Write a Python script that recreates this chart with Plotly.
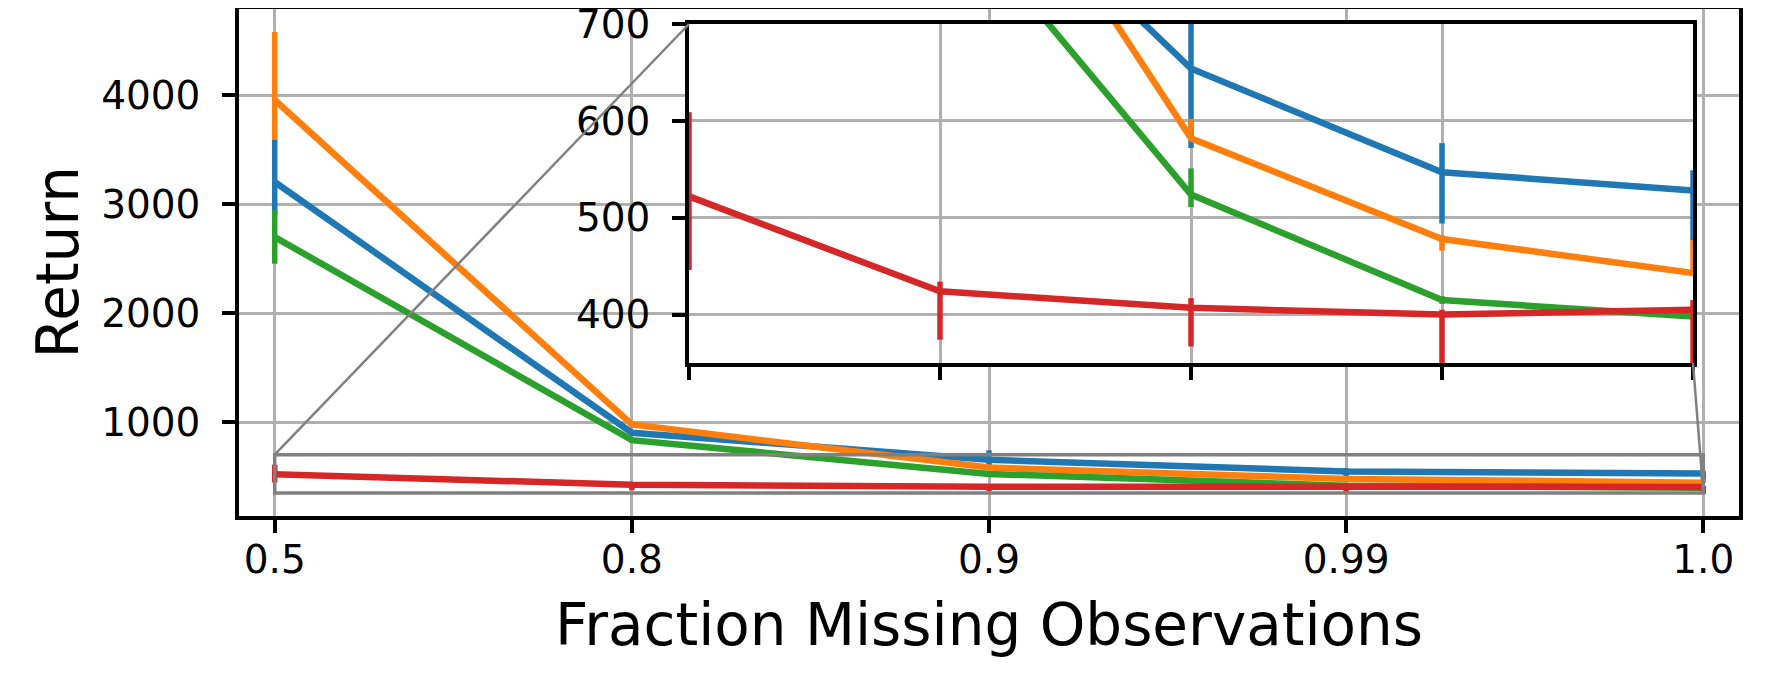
import plotly.graph_objects as go

# ---------------- data ----------------
x_labels = ["0.5", "0.8", "0.9", "0.99", "1.0"]
x_idx = [0, 1, 2, 3, 4]

blue_mean = [3202, 902, 654, 547, 528]
blue_hi = [3600, 925, 740, 577, 549]
blue_lo = [2900, 880, 572, 494, 477]

orange_mean = [3954, 978, 582, 478, 443]
orange_hi = [4578, 1000, 602, 482, 477]
orange_lo = [3587, 960, 580, 466, 441]

green_mean = [2697, 834, 524, 415, 398]
green_hi = [2942, 850, 551, 419, 402]
green_lo = [2452, 815, 511, 411, 394]

red_mean = [522, 424, 407, 400, 405]
red_hi = [609, 434, 417, 405, 415]
red_lo = [446, 374, 367, 340, 340]

series = [
    ("blue", "#1f77b4", blue_mean, blue_hi, blue_lo),
    ("orange", "#ff7f0e", orange_mean, orange_hi, orange_lo),
    ("green", "#2ca02c", green_mean, green_hi, green_lo),
    ("red", "#d62728", red_mean, red_hi, red_lo),
]

main_yticks = [1000, 2000, 3000, 4000]
inset_yticks = [400, 500, 600, 700]

# ---------------- layout geometry ----------------
W, H = 1769, 688
OX, OY = 8, 8  # page body margin compensation


def px(xp):
    return (xp - OX) / W


def py(yp):
    return 1 - (yp - OY) / H


main_xdom = [px(239), px(1739)]
main_ydom = [py(516), py(9)]
inset_xdom = [px(689), px(1693)]
inset_ydom = [py(363), py(24)]
main_xrange = [-0.1, 4.1]
main_yrange = [138, 4789]
inset_xrange = [0, 4]
inset_yrange = [350, 700]

FONT = "DejaVu Sans"
TICK_SIZE = 39
TITLE_SIZE = 58
LW = 6.5
GRID = "#b0b0b0"

fig = go.Figure()

for axis_suffix in ["", "2"]:
    for name, color, m, hi, lo in series:
        fig.add_trace(go.Scatter(
            x=x_idx, y=m, mode="lines", name=name, showlegend=False,
            line=dict(color=color, width=LW),
            error_y=dict(type="data", symmetric=False,
                         array=[h - v for h, v in zip(hi, m)],
                         arrayminus=[v - l for v, l in zip(m, lo)],
                         width=0, thickness=5.5, color=color),
            xaxis="x" + axis_suffix, yaxis="y" + axis_suffix,
        ))

axis_common = dict(
    showline=True, linecolor="black", linewidth=3.5, mirror=True,
    ticks="outside", ticklen=13, tickwidth=3.5, tickcolor="black",
    showgrid=True, gridcolor=GRID, gridwidth=3, zeroline=False,
    automargin=False, ticklabeloverflow="allow",
    tickfont=dict(family=FONT, size=TICK_SIZE, color="black"),
)

fig.update_layout(
    template="none",
    width=W, height=H, autosize=False,
    margin=dict(l=0, r=0, t=0, b=0, pad=0),
    paper_bgcolor="white", plot_bgcolor="white",
    showlegend=False,
    font=dict(family=FONT, color="black"),
    xaxis=dict(domain=main_xdom, range=main_xrange, tickmode="array",
               tickvals=x_idx, ticktext=x_labels, ticklabelstandoff=-7,
               **axis_common),
    yaxis=dict(domain=main_ydom, range=main_yrange, tickmode="array",
               tickvals=main_yticks, ticklabelstandoff=14, **axis_common),
    xaxis2=dict(domain=inset_xdom, range=inset_xrange, anchor="y2",
                tickmode="array", tickvals=x_idx, showticklabels=False,
                **axis_common),
    yaxis2=dict(domain=inset_ydom, range=inset_yrange, anchor="x2",
                tickmode="array", tickvals=inset_yticks,
                ticklabelstandoff=14, **axis_common),
)


def to_paper(v, rng, dom):
    return dom[0] + (v - rng[0]) / (rng[1] - rng[0]) * (dom[1] - dom[0])


box_col = "#808080"
# zoom indicator rectangle in main axes
fig.add_shape(type="rect", xref="x", yref="y",
              x0=inset_xrange[0], x1=inset_xrange[1],
              y0=inset_yrange[0], y1=inset_yrange[1],
              line=dict(color=box_col, width=3.5), layer="above")

# connectors: box top-left -> inset top-left, box bottom-right -> inset bottom-right
for xv, yv in [(inset_xrange[0], inset_yrange[1]), (inset_xrange[1], inset_yrange[0])]:
    fig.add_shape(type="line", xref="paper", yref="paper",
                  x0=to_paper(xv, main_xrange, main_xdom),
                  y0=to_paper(yv, main_yrange, main_ydom),
                  x1=to_paper(xv, inset_xrange, inset_xdom),
                  y1=to_paper(yv, inset_yrange, inset_ydom),
                  line=dict(color=box_col, width=2.5), layer="above")

fig.add_annotation(text="Fraction Missing Observations", xref="paper", yref="paper",
                   x=(main_xdom[0] + main_xdom[1]) / 2, y=py(625),
                   xanchor="center", yanchor="middle", showarrow=False,
                   font=dict(family=FONT, size=TITLE_SIZE, color="black"))
fig.add_annotation(text="Return", xref="paper", yref="paper",
                   x=px(57), y=(main_ydom[0] + main_ydom[1]) / 2,
                   xanchor="center", yanchor="middle", textangle=-90, showarrow=False,
                   font=dict(family=FONT, size=TITLE_SIZE, color="black"))

fig.write_html("out.html")
